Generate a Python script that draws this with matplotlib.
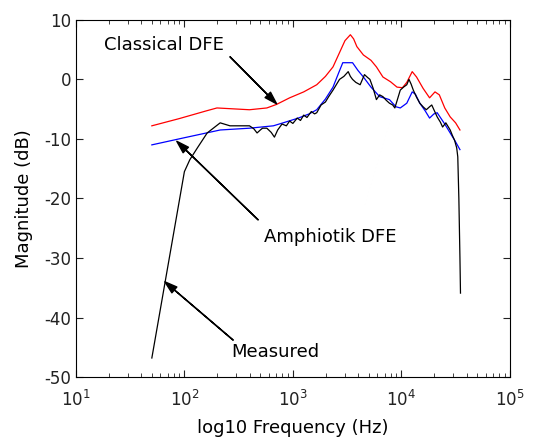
import numpy as np
import matplotlib
matplotlib.use("Agg")
import matplotlib.pyplot as plt

plt.rcParams['font.family'] = ['DejaVu Sans']
plt.rcParams['mathtext.fontset'] = 'dejavusans'
plt.rcParams['axes.unicode_minus'] = False

# log10 frequency / magnitude (dB)
logf_classical = [1.70, 1.95, 2.20, 2.30, 2.60, 2.76, 2.85, 2.97, 3.10, 3.22, 3.30, 3.37,
                  3.43, 3.48, 3.53, 3.56, 3.59, 3.65, 3.72, 3.77, 3.83, 3.90, 3.96, 4.01,
                  4.05, 4.10, 4.14, 4.20, 4.26, 4.31, 4.35, 4.40, 4.45, 4.50, 4.54]
mag_classical = [-7.8, -6.6, -5.3, -4.8, -5.1, -4.8, -4.2, -3.1, -2.1, -0.9, 0.5, 2.1,
                 4.5, 6.5, 7.5, 6.8, 5.5, 4.1, 3.2, 2.1, 0.4, -0.4, -1.3, -1.4,
                 -0.5, 1.3, 0.4, -1.5, -3.1, -2.1, -2.6, -4.8, -6.3, -7.3, -8.5]

logf_amph = [1.70, 2.00, 2.33, 2.60, 2.82, 2.91, 3.05, 3.15, 3.22, 3.30, 3.37, 3.42,
             3.46, 3.55, 3.60, 3.65, 3.72, 3.80, 3.89, 3.95, 3.99, 4.05, 4.10, 4.13,
             4.17, 4.22, 4.26, 4.30, 4.33, 4.40, 4.45, 4.50, 4.54]
mag_amph = [-11.0, -9.8, -8.5, -8.2, -7.8, -7.3, -6.5, -5.8, -5.1, -3.3, -1.3, 1.0,
            2.8, 2.8, 1.5, 0.4, -1.3, -2.9, -3.4, -4.6, -4.8, -4.0, -2.1, -2.5,
            -4.0, -5.3, -6.5, -5.8, -5.6, -7.5, -9.0, -10.5, -11.8]

logf_meas = [1.70, 2.00, 2.05, 2.12, 2.21, 2.33, 2.42, 2.50, 2.60, 2.64, 2.67, 2.70,
             2.72, 2.76, 2.80, 2.83, 2.86, 2.90, 2.94, 2.97, 3.00, 3.04, 3.07, 3.10,
             3.13, 3.17, 3.20, 3.22, 3.26, 3.30, 3.33, 3.37, 3.40, 3.43, 3.47, 3.51,
             3.53, 3.55, 3.58, 3.62, 3.66, 3.69, 3.71, 3.74, 3.77, 3.80, 3.83, 3.86,
             3.89, 3.92, 3.94, 3.97, 3.99, 4.02, 4.05, 4.07, 4.09, 4.11, 4.14, 4.17,
             4.20, 4.23, 4.26, 4.28, 4.31, 4.33, 4.36, 4.38, 4.41, 4.45, 4.47, 4.49,
             4.51, 4.52, 4.53, 4.54, 4.545]
mag_meas = [-46.8, -15.5, -13.5, -11.5, -9.0, -7.3, -7.8, -7.8, -7.8, -8.3, -9.0, -8.5,
            -8.2, -8.2, -8.9, -9.7, -8.5, -7.5, -7.8, -7.0, -7.4, -6.5, -6.9, -6.0,
            -6.4, -5.4, -5.8, -5.6, -4.3, -3.8, -2.9, -1.8, -0.9, 0.0, 0.5, 1.3,
            0.5, 0.0, -0.5, -0.9, 0.8, 0.3, 0.0, -1.5, -3.4, -2.6, -2.9, -3.5,
            -4.0, -4.3, -4.8, -3.0, -1.8, -1.3, -0.9, 0.0, -0.8, -1.8, -3.0, -4.0,
            -4.6, -5.1, -4.6, -4.3, -5.5, -6.3, -7.2, -8.0, -7.3, -8.5, -9.4, -10.2,
            -11.5, -13.0, -20.0, -30.0, -35.9]

fig = plt.figure(figsize=(5.5, 4.41), dpi=100)
ax = fig.add_axes([0.138, 0.145, 0.789, 0.81])

ax.semilogx(10 ** np.array(logf_classical), mag_classical, color='red', lw=0.9)
ax.semilogx(10 ** np.array(logf_amph), mag_amph, color='blue', lw=0.9)
ax.semilogx(10 ** np.array(logf_meas), mag_meas, color='black', lw=0.9)

ax.set_xlim(10, 1e5)
ax.set_ylim(-50, 10)
ax.set_yticks(range(-50, 11, 10))
ax.tick_params(which='both', direction='in', top=True, right=True, labelsize=12,
               colors='#222222')
ax.tick_params(which='major', length=5)
ax.tick_params(which='minor', length=3)
ax.tick_params(axis='x', which='major', pad=9)

ax.set_xlabel("log10 Frequency (Hz)", fontsize=13, labelpad=7)
ax.set_ylabel("Magnitude (dB)", fontsize=13, labelpad=8)

arrow = dict(facecolor='black', edgecolor='black', width=0.2, headwidth=5.5,
             headlength=9, shrink=0)

ax.text(10 ** 1.815, 5.8, "Classical DFE", ha='center', va='center', fontsize=13)
ax.annotate('', xy=(10 ** 2.85, -4.1), xytext=(10 ** 2.42, 3.8), arrowprops=arrow)

ax.text(10 ** 3.34, -26.5, "Amphiotik DFE", ha='center', va='center', fontsize=13)
ax.annotate('', xy=(10 ** 1.93, -10.4), xytext=(10 ** 2.68, -23.6), arrowprops=arrow)

ax.text(10 ** 2.84, -45.8, "Measured", ha='center', va='center', fontsize=13)
ax.annotate('', xy=(10 ** 1.82, -34.0), xytext=(10 ** 2.45, -43.8), arrowprops=arrow)

fig.savefig("out.png", dpi=100)
